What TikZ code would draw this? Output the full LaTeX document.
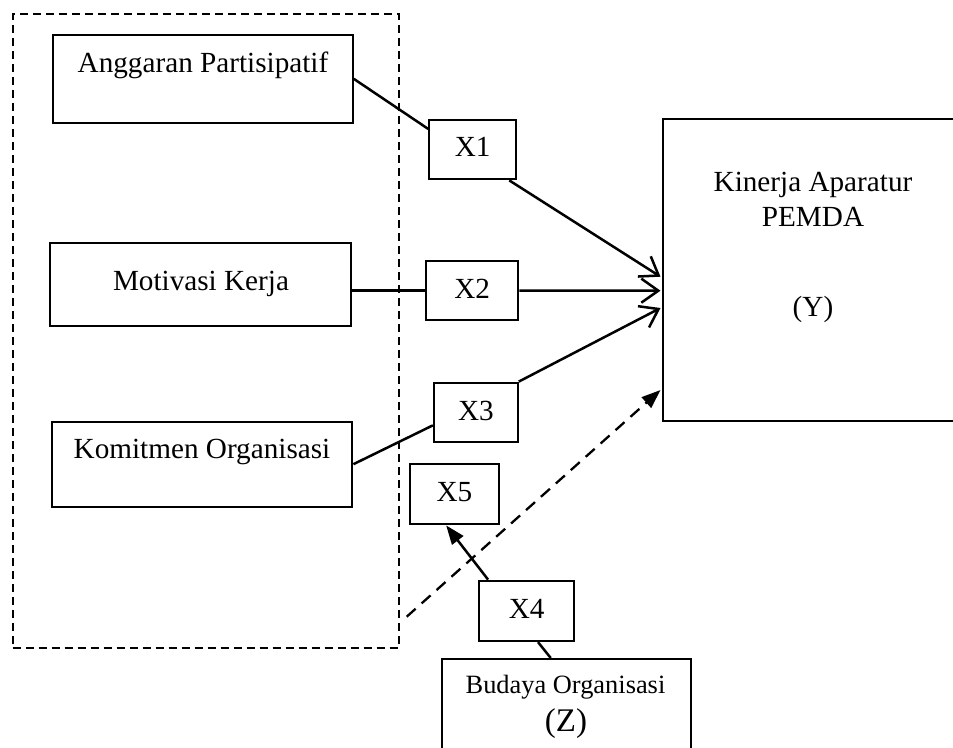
\documentclass[tikz,border=0pt]{standalone}
\usepackage{fontspec}
\setmainfont{Liberation Serif}
\usetikzlibrary{arrows.meta,calc}
\begin{document}
\begin{tikzpicture}[x=1pt,y=-1pt,
  box/.style={draw, line width=2.2pt, inner sep=0pt},
  frame/.style={draw, line width=2pt, dash pattern=on 8pt off 5pt, inner sep=0pt},
  lbl/.style={anchor=base, inner sep=0pt, font=\fontsize{29.2}{34.7}\selectfont},
  smalllbl/.style={anchor=base, inner sep=0pt, font=\fontsize{26.4}{30}\selectfont},
  biglbl/.style={anchor=base, inner sep=0pt, font=\fontsize{33}{38}\selectfont},
  conn/.style={line width=2.5pt},
  openarrow/.style={-{Straight Barb[length=17pt,width=24pt,line width=2.5pt]}},
  fillarrow/.style={-{Triangle[length=19pt,width=14pt]}},
  dashconn/.style={line width=2.3pt, dash pattern=on 12pt off 8pt}]
\useasboundingbox (0,0) rectangle (953,747);

% dashed group frame
\node[frame, minimum width=386.3pt, minimum height=633.5pt] (grp) at (205.85,330.75) {};

% left boxes
\node[box, minimum width=300pt, minimum height=87.7pt] (ang) at (202.7,78.85) {};
\node[lbl] (angt) at (203,72.7) {Anggaran Partisipatif};
\node[box, minimum width=301pt, minimum height=83.3pt] (mot) at (200.5,284.35) {};
\node[lbl] (mott) at (201,290) {Motivasi Kerja};
\node[box, minimum width=300.6pt, minimum height=85pt] (kom) at (202,464.2) {};
\node[lbl] (komt) at (202,458.3) {Komitmen Organisasi};

% small X boxes
\node[box, minimum width=86.7pt, minimum height=59.3pt] (x1) at (472.65,149.65) {};
\node[lbl] at (472.65,156.7) {X1};
\node[box, minimum width=92.3pt, minimum height=59pt] (x2) at (472.15,290.5) {};
\node[lbl] at (472.15,298.3) {X2};
\node[box, minimum width=83.7pt, minimum height=59pt] (x3) at (475.85,412.2) {};
\node[lbl] at (475.85,420) {X3};
\node[box, minimum width=89pt, minimum height=60pt] (x5) at (454.5,494.3) {};
\node[lbl] at (454.5,501.7) {X5};
\node[box, minimum width=94.7pt, minimum height=60.3pt] (x4) at (526.65,610.85) {};
\node[lbl] at (526.65,618.3) {X4};

% Kinerja box
\node[box, line width=2pt, minimum width=296.7pt, minimum height=301.4pt] (kin) at (811.65,270) {};
\node[lbl, align=center] (kint) at (813,226) {Kinerja Aparatur\\PEMDA};
\node[lbl] (kiny) at (813,316.7) {(Y)};

% Budaya box
\node[box, line width=2pt, minimum width=249.3pt, minimum height=131pt] (bud) at (566.35,724.5) {};
\node[smalllbl] (budt) at (565.5,693.3) {Budaya Organisasi};
\node[biglbl] (budz) at (566,731.7) {(Z)};

% arrow end points at Kinerja
\coordinate (t1) at (660.5,276.7);
\coordinate (t2) at (660.5,290.7);
\coordinate (t3) at (660.5,308);
\coordinate (t5) at (660.5,390);
\coordinate (d0) at (406.7,616.7);

% connectors
\draw[conn] (ang.east) -- (x1.155);
\draw[conn, openarrow] (x1.-40) -- (t1);
\draw[conn] (mot.east |- x2.west) -- (x2.west);
\draw[conn, openarrow] (x2.east) -- (t2);
\draw[conn] (kom.east) -- (x3.197);
\draw[conn, openarrow] (x3.north east) -- (t3);
\draw[conn, fillarrow] (x4.141) -- (x5.-105);
\draw[conn] (x4.-70) -- ($(bud.north)+(-15.6,0)$);
\draw[dashconn, fillarrow] (d0) -- (t5);
\end{tikzpicture}
\end{document}
